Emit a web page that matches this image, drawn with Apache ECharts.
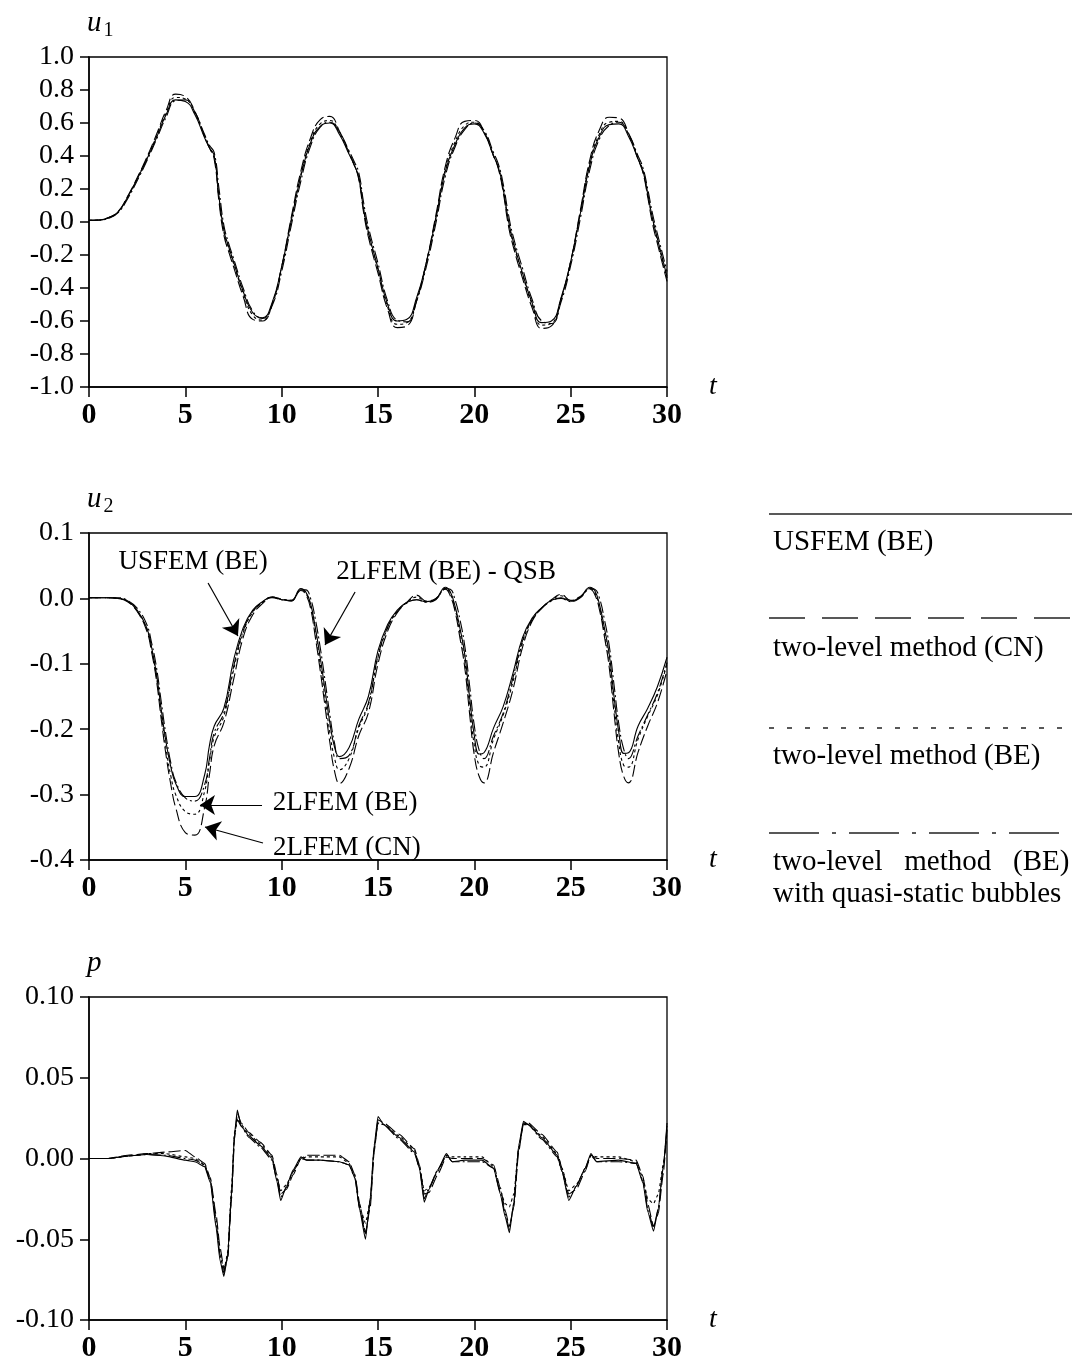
<!DOCTYPE html>
<html lang="en">
<head>
<meta charset="UTF-8">
<title>u1 u2 p</title>
<script src="https://cdn.jsdelivr.net/npm/echarts@6/dist/echarts.min.js"></script>
<style>
  html, body { margin: 0; padding: 0; background: #fff; }
  #chart { width: 1072px; height: 1365px; }
</style>
</head>
<body>
<div id="chart"></div>
<script>
// series names (legend order)
var seriesNames = ['USFEM (BE)', 'two-level method (CN)', 'two-level method (BE)', 'two-level method (BE) with quasi-static bubbles'];

// ---- u1 ----
var tU1 = [0,0.5,1,1.5,2,2.5,3,3.5,4,4.5,5,5.5,6,6.25,6.5,6.75,7,7.25,7.5,8,8.5,9,9.5,10,10.5,11,11.5,12,12.5,13,13.5,13.75,14,14.25,14.5,15,15.5,16,16.5,17,17.5,18,18.5,19,19.5,20,20.5,21,21.25,21.5,21.75,22,22.5,23,23.5,24,24.5,25,25.5,26,26.5,27,27.5,28,28.5,28.75,29,29.25,29.5,30];
var u1Usfem = [0.010,0.012,0.025,0.060,0.150,0.260,0.380,0.510,0.650,0.740,0.730,0.650,0.510, 0.450,0.400,0.150,-0.050,-0.150,-0.240, -0.420,-0.550,-0.580,-0.490,-0.270,0.010,0.280,0.480,0.580,0.600,0.530,0.410, 0.350,0.270,0.080,-0.060, -0.280,-0.500,-0.600,-0.590,-0.460,-0.250,0.020,0.310,0.470,0.570,0.595,0.540,0.400, 0.330,0.200,0.020,-0.110, -0.310,-0.490,-0.610,-0.600,-0.460,-0.240,0.050,0.350,0.520,0.590,0.595,0.520,0.380, 0.310,0.170,0.020,-0.100, -0.330];
var u1Cn = [0.010,0.012,0.026,0.062,0.155,0.268,0.392,0.530,0.675,0.775,0.760,0.670,0.520, 0.450,0.380,0.120,-0.080,-0.180,-0.270, -0.450,-0.590,-0.600,-0.500,-0.270,0.030,0.310,0.510,0.620,0.640,0.550,0.420, 0.350,0.260,0.060,-0.090, -0.310,-0.530,-0.640,-0.630,-0.480,-0.250,0.040,0.340,0.510,0.610,0.615,0.550,0.400, 0.320,0.180,-0.010,-0.140, -0.340,-0.520,-0.645,-0.630,-0.470,-0.240,0.070,0.380,0.560,0.635,0.630,0.540,0.380, 0.300,0.150,-0.010,-0.130, -0.360];
var u1Be = [0.010,0.012,0.025,0.060,0.152,0.263,0.385,0.518,0.660,0.755,0.745,0.660,0.515, 0.450,0.395,0.140,-0.060,-0.160,-0.250, -0.430,-0.565,-0.595,-0.500,-0.275,0.015,0.290,0.490,0.595,0.615,0.540,0.415, 0.350,0.270,0.075,-0.070, -0.290,-0.515,-0.620,-0.610,-0.470,-0.250,0.025,0.320,0.485,0.585,0.605,0.545,0.400, 0.330,0.195,0.010,-0.120, -0.320,-0.500,-0.625,-0.615,-0.465,-0.240,0.060,0.360,0.535,0.605,0.610,0.530,0.385, 0.310,0.165,0.015,-0.110, -0.340];
var u1Qsb = [0.010,0.011,0.022,0.055,0.140,0.250,0.370,0.500,0.635,0.735,0.740,0.665,0.530, 0.465,0.420,0.200,-0.020,-0.130,-0.220, -0.400,-0.540,-0.585,-0.510,-0.300,-0.020,0.250,0.460,0.575,0.605,0.545,0.430, 0.370,0.300,0.120,-0.030, -0.250,-0.480,-0.595,-0.605,-0.480,-0.275,-0.010,0.280,0.455,0.560,0.600,0.555,0.420, 0.350,0.230,0.060,-0.080, -0.280,-0.470,-0.600,-0.615,-0.485,-0.265,0.020,0.320,0.505,0.585,0.605,0.535,0.400, 0.330,0.200,0.050,-0.070, -0.300];

// ---- u2 ----
var tU2 = [0,0.5,1,1.5,2,2.5,3,3.25,3.5,3.75,4,4.25,4.5,5,5.5,6,6.25,6.5,7,7.5,8,8.5,9,9.5,10,10.5,11,11.25,11.5,11.75,12,12.25,12.5,12.75,13,13.5,14,14.5,15,15.5,16,16.5,17,17.5,18,18.5,18.75,19,19.25,19.5,19.75,20,20.25,20.5,21,21.5,22,22.5,23,23.5,24,24.5,25,25.5,26,26.25,26.5,26.75,27,27.25,27.5,27.75,28,28.5,29,29.5,30];
var u2Usfem = [0.001,0.001,0.001,0.000,-0.004,-0.018,-0.045, -0.075,-0.115,-0.170,-0.220,-0.258,-0.283, -0.303,-0.303,-0.270, -0.225,-0.195, -0.168,-0.095,-0.045,-0.018,-0.005,0.002,-0.002,-0.003,0.015, 0.010,-0.008,-0.045,-0.090,-0.140,-0.190,-0.228,-0.242, -0.228,-0.185,-0.150,-0.080,-0.040,-0.018,-0.006,-0.002,-0.005,-0.001,0.017, 0.010,-0.012,-0.045,-0.085,-0.150,-0.210,-0.238,-0.236, -0.198,-0.165,-0.115,-0.060,-0.030,-0.014,-0.003,0.001,-0.004,0.002,0.017, 0.012,-0.010,-0.045,-0.085,-0.150,-0.205,-0.237,-0.236, -0.195,-0.168,-0.135,-0.090];
var u2Cn = [0.001,0.001,0.001,0.000,-0.005,-0.020,-0.050, -0.082,-0.125,-0.185,-0.240,-0.285,-0.320, -0.358,-0.362,-0.320, -0.270,-0.225, -0.190,-0.125,-0.060,-0.025,-0.008,0.002,-0.001,-0.004,0.012, 0.006,-0.015,-0.060,-0.110,-0.165,-0.220,-0.265,-0.283, -0.260,-0.210,-0.175,-0.100,-0.050,-0.022,-0.006,0.005,-0.004,0.000,0.014, 0.004,-0.020,-0.060,-0.105,-0.175,-0.240,-0.272,-0.282, -0.235,-0.190,-0.140,-0.075,-0.035,-0.015,-0.002,0.006,-0.003,0.003,0.014, 0.006,-0.018,-0.058,-0.105,-0.175,-0.238,-0.272,-0.282, -0.235,-0.195,-0.160,-0.110];
var u2Be = [0.001,0.001,0.001,0.000,-0.004,-0.019,-0.047, -0.078,-0.120,-0.177,-0.230,-0.272,-0.300, -0.326,-0.330,-0.295, -0.250,-0.212, -0.180,-0.110,-0.053,-0.021,-0.006,0.002,-0.001,-0.003,0.013, 0.008,-0.011,-0.052,-0.100,-0.152,-0.205,-0.245,-0.262, -0.245,-0.198,-0.163,-0.090,-0.045,-0.020,-0.006,0.002,-0.005,-0.001,0.015, 0.007,-0.016,-0.052,-0.095,-0.162,-0.225,-0.255,-0.258, -0.215,-0.178,-0.128,-0.068,-0.033,-0.015,-0.003,0.004,-0.004,0.002,0.015, 0.009,-0.014,-0.052,-0.095,-0.162,-0.222,-0.255,-0.258, -0.215,-0.180,-0.148,-0.100];
var u2Qsb = [0.001,0.001,0.001,0.001,-0.003,-0.015,-0.040, -0.068,-0.105,-0.158,-0.210,-0.252,-0.280, -0.305,-0.310,-0.285, -0.245,-0.205, -0.175,-0.105,-0.050,-0.020,-0.006,0.001,-0.002,-0.004,0.013, 0.013,0.000,-0.032,-0.075,-0.125,-0.178,-0.222,-0.245, -0.240,-0.195,-0.160,-0.088,-0.044,-0.020,-0.007,-0.002,-0.006,-0.002,0.015, 0.014,-0.002,-0.032,-0.072,-0.132,-0.195,-0.232,-0.245, -0.210,-0.175,-0.122,-0.065,-0.032,-0.015,-0.004,0.000,-0.005,0.001,0.015, 0.014,0.000,-0.032,-0.072,-0.132,-0.192,-0.230,-0.245, -0.210,-0.178,-0.145,-0.098];

// ---- p ----
var tP = [0,1,2,3,4,5,5.5,6,6.3,6.6,6.8,7,7.2,7.4,7.55,7.7,7.9,8.3,8.9,9.5,9.75,9.95,10.25,10.6,11,11.3,12,13,13.5,13.8,14.05,14.35,14.6,14.8,15,15.3,16.1,16.9,17.15,17.4,17.65,18.1,18.55,18.85,19.5,20.4,21,21.35,21.6,21.82,22.05,22.3,22.55,22.8,23.5,24.3,24.55,24.9,25.3,25.75,26.05,26.35,27.5,28.4,28.75,29,29.3,29.55,29.8,30];
var pUsfem = [0.000,0.000,0.0015,0.0025,0.0015,-0.001,-0.002,-0.005,-0.015,-0.043, -0.063,-0.073,-0.060,-0.020,0.015,0.030,0.020,0.014,0.008,0.000, -0.014,-0.026,-0.017,-0.007,0.001,-0.001,-0.001,-0.002,-0.004,-0.012, -0.032,-0.050,-0.024,0.008,0.026,0.021,0.013,0.004,-0.006,-0.027, -0.019,-0.007,0.003,-0.002,-0.001,-0.001,-0.006,-0.022,-0.036,-0.046, -0.027,0.008,0.023,0.021,0.013,0.002,-0.008,-0.026,-0.017,-0.006, 0.003,-0.002,-0.001,-0.003,-0.015,-0.033,-0.045,-0.031,-0.005,0.022];
var pCn = [0.000,0.000,0.002,0.003,0.004,0.005,0.001,-0.003,-0.012,-0.035, -0.055,-0.068,-0.062,-0.025,0.012,0.028,0.022,0.016,0.010,0.002, -0.010,-0.022,-0.019,-0.010,0.000,0.002,0.002,0.002,-0.002,-0.010, -0.028,-0.046,-0.030,0.004,0.024,0.022,0.015,0.006,-0.004,-0.022, -0.021,-0.010,0.001,0.000,0.000,0.000,-0.004,-0.018,-0.032,-0.042, -0.030,0.004,0.022,0.022,0.015,0.004,-0.006,-0.022,-0.019,-0.008, 0.002,0.000,0.000,-0.001,-0.011,-0.028,-0.042,-0.034,-0.010,0.018];
var pBe = [0.000,0.000,0.0015,0.003,0.003,0.001,0.000,-0.004,-0.013,-0.038, -0.058,-0.070,-0.058,-0.018,0.016,0.025,0.021,0.015,0.009,0.001, -0.012,-0.020,-0.016,-0.008,0.000,0.001,0.001,0.001,-0.003,-0.011, -0.030,-0.040,-0.026,0.006,0.022,0.021,0.014,0.005,-0.005,-0.020, -0.018,-0.008,0.002,0.001,0.001,0.001,-0.005,-0.020,-0.028,-0.030, -0.022,0.006,0.021,0.021,0.014,0.003,-0.006,-0.020,-0.016,-0.007, 0.002,0.001,0.001,-0.002,-0.012,-0.025,-0.028,-0.022,-0.004,0.016];
var pQsb = [0.000,0.000,0.0015,0.0025,0.002,0.000,-0.001,-0.004,-0.014,-0.040, -0.060,-0.071,-0.061,-0.022,0.014,0.024,0.020,0.013,0.007,-0.001, -0.013,-0.024,-0.018,-0.008,0.000,-0.001,-0.001,-0.002,-0.004,-0.012, -0.031,-0.047,-0.027,0.006,0.022,0.021,0.012,0.003,-0.006,-0.025, -0.018,-0.007,0.002,-0.002,-0.002,-0.002,-0.006,-0.021,-0.034,-0.044, -0.028,0.006,0.022,0.021,0.012,0.001,-0.008,-0.024,-0.017,-0.006, 0.002,-0.002,-0.002,-0.003,-0.014,-0.031,-0.043,-0.031,-0.006,0.020];

// annotations of the u2 panel, in data units (t, u2)
var u2Labels = [
  { name: 'USFEM (BE)', t: 5.40, v: 0.0557 },
  { name: '2LFEM (BE) - QSB', t: 18.53, v: 0.0404 },
  { name: '2LFEM (BE)', t: 13.29, v: -0.3128 },
  { name: '2LFEM (CN)', t: 13.39, v: -0.3817 }
];
var u2Arrows = [
  [6.18, 0.0235, 7.73, -0.0575],
  [13.81, 0.0098, 12.25, -0.0713],
  [8.98, -0.316, 5.76, -0.316],
  [9.03, -0.374, 6.02, -0.3495]
];

var serif = '"Liberation Serif", "DejaVu Serif", serif';
var dashes = ['solid', [12, 4], [3, 3], [12, 3, 2, 3]];

function pairs(ts, vs) {
    if (ts.length !== vs.length) console.error('length mismatch', ts.length, vs.length);
    var res = [];
    for (var i = 0; i < ts.length; i++) res.push([ts[i], vs[i]]);
    return res;
}

var grids = [
    { left: 89, top: 57, width: 578, height: 330 },
    { left: 89, top: 533, width: 578, height: 327 },
    { left: 89, top: 997, width: 578, height: 323 }
];
grids.forEach(function (g) {
    g.show = true;
    g.borderColor = '#000';
    g.borderWidth = 1.3;
    g.backgroundColor = 'transparent';
    g.containLabel = false;
    g.outerBoundsMode = 'none';
});

function makeX(i) {
    return {
        type: 'value', gridIndex: i, min: 0, max: 30, interval: 5,
        name: 't', nameLocation: 'end', nameGap: 42,
        nameTextStyle: { fontFamily: serif, fontStyle: 'italic', fontSize: 28, color: '#000',
                         verticalAlign: 'middle', padding: [0, 0, 14, 0] },
        axisLine: { show: true, onZero: false, lineStyle: { color: '#000', width: 1.5 } },
        axisTick: { show: true, inside: false, length: 10, lineStyle: { color: '#000', width: 1.5 } },
        axisLabel: { color: '#000', fontFamily: serif, fontWeight: 'bold', fontSize: 30, margin: 13 },
        splitLine: { show: false }
    };
}

function makeY(i, name, sub, min, max, interval, digits) {
    return {
        type: 'value', gridIndex: i, min: min, max: max, interval: interval,
        name: sub ? '{a|' + name + '}{b|' + sub + '}' : '{a|' + name + '}',
        nameLocation: 'end', nameGap: 34,
        nameTextStyle: {
            align: 'left', verticalAlign: 'middle', padding: [0, 0, 0, -2],
            rich: {
                a: { fontFamily: serif, fontStyle: 'italic', fontSize: 29, color: '#000' },
                b: { fontFamily: serif, fontSize: 20, color: '#000', padding: [15, 0, 0, 2] }
            }
        },
        axisLine: { show: true, onZero: false, lineStyle: { color: '#000', width: 1.5 } },
        axisTick: { show: true, inside: false, length: 9, lineStyle: { color: '#000', width: 1.5 } },
        axisLabel: {
            color: '#000', fontFamily: serif, fontSize: 28, margin: 15,
            formatter: function (v) { return v.toFixed(digits); }
        },
        splitLine: { show: false }
    };
}

var panels = [
    [tU1, [u1Usfem, u1Cn, u1Be, u1Qsb], 0.5, null],
    [tU2, [u2Usfem, u2Cn, u2Be, u2Qsb], 0.45, null],
    [tP, [pUsfem, pCn, pBe, pQsb], 0.15, 'x']
];

var series = [];
panels.forEach(function (p, gi) {
    p[1].forEach(function (vals, si) {
        var s = {
            name: seriesNames[si],
            type: 'line',
            xAxisIndex: gi, yAxisIndex: gi,
            data: pairs(p[0], vals),
            showSymbol: false,
            smooth: p[2],
            lineStyle: { color: '#000', width: 1.1, type: dashes[si] },
            z: 10 - si
        };
        if (p[3]) s.smoothMonotone = p[3];
        series.push(s);
    });
});

// arrows and labels on the u2 panel
series[4].markLine = {
    silent: true,
    symbol: ['none', 'arrow'],
    symbolSize: 15,
    label: { show: false },
    lineStyle: { color: '#000', width: 1.2, type: 'solid' },
    itemStyle: { color: '#000' },
    data: u2Arrows.map(function (a) {
        return [{ coord: [a[0], a[1]] }, { coord: [a[2], a[3]] }];
    })
};
series[4].markPoint = {
    silent: true,
    symbol: 'rect',
    symbolSize: 1,
    itemStyle: { color: 'rgba(0,0,0,0)' },
    label: { show: true, position: 'inside', formatter: '{b}', color: '#000',
             fontFamily: serif, fontSize: 27 },
    data: u2Labels.map(function (l) { return { name: l.name, coord: [l.t, l.v] }; })
};

// legend drawn at the right of the u2 panel
var legendLines = [514, 618, 728, 833];
var legendDash = [null, [36, 17], [5, 13], [50, 13, 4, 13]];
var legendTexts = [
    { text: 'USFEM (BE)', y: 542 },
    { text: 'two-level method (CN)', y: 648 },
    { text: 'two-level method (BE)', y: 756 },
    { text: 'two-level\u00a0\u00a0 method\u00a0\u00a0 (BE)', y: 862 },
    { text: 'with quasi-static bubbles', y: 894 }
];
var graphics = [];
legendLines.forEach(function (y, i) {
    graphics.push({
        type: 'line', silent: true,
        shape: { x1: 769, y1: y, x2: 1072, y2: y },
        style: { stroke: '#222', lineWidth: 1.5, lineDash: legendDash[i] }
    });
});
legendTexts.forEach(function (t) {
    graphics.push({
        type: 'text', silent: true, x: 773, y: t.y,
        style: { text: t.text, fill: '#000', fontFamily: serif, fontSize: 29,
                 verticalAlign: 'middle', align: 'left' }
    });
});

var chart = echarts.init(document.getElementById('chart'), null, { renderer: 'canvas' });
chart.setOption({
    backgroundColor: '#fff',
    animation: false,
    grid: grids,
    xAxis: [makeX(0), makeX(1), makeX(2)],
    yAxis: [
        makeY(0, 'u', '1', -1, 1, 0.2, 1),
        makeY(1, 'u', '2', -0.4, 0.1, 0.1, 1),
        makeY(2, 'p', '', -0.1, 0.1, 0.05, 2)
    ],
    series: series,
    graphic: graphics
});
</script>
</body>
</html>
